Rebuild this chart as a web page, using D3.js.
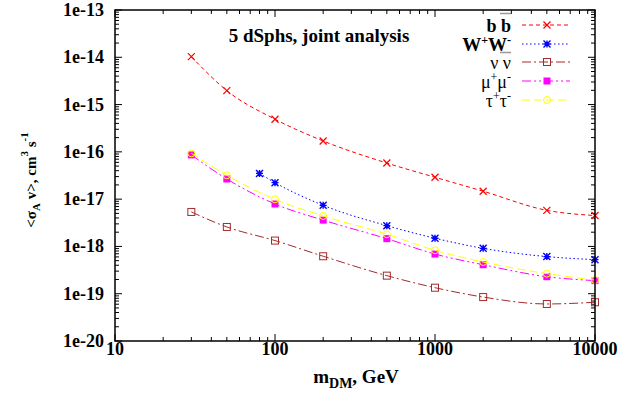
<!DOCTYPE html>
<html>
<head>
<meta charset="utf-8">
<script src="https://cdn.jsdelivr.net/npm/d3@7"></script>
<style>
  html, body { margin: 0; padding: 0; background: #fff; }
  svg text { font-family: "Liberation Serif", "Times New Roman", serif; }
</style>
</head>
<body>
<svg id="chart" width="621" height="404"></svg>
<script>
// Dark-matter mass points (GeV)
const massMain = [30, 50, 100, 200, 500, 1000, 2000, 5000, 10000];
const massWW   = [80, 100, 200, 500, 1000, 2000, 5000, 10000];

// Upper limits on <sigma_A v> (cm^3 s^-1) per annihilation channel
const limitBB   = [1.03e-14, 1.97e-15, 4.9e-16, 1.7e-16, 5.8e-17, 2.9e-17, 1.47e-17, 5.8e-18, 4.5e-18];
const limitWW   = [3.5e-17, 2.23e-17, 7.4e-18, 2.75e-18, 1.49e-18, 9.1e-19, 6.1e-19, 5.25e-19];
const limitNuNu = [5.36e-18, 2.58e-18, 1.33e-18, 6.2e-19, 2.41e-19, 1.34e-19, 8.5e-20, 6.07e-20, 6.6e-20];
const limitMuMu = [8.6e-17, 2.67e-17, 7.9e-18, 3.6e-18, 1.46e-18, 6.9e-19, 4.1e-19, 2.29e-19, 1.89e-19];
const limitTauTau = [9.3e-17, 3.19e-17, 9.9e-18, 4.4e-18, 1.81e-18, 8.3e-19, 4.69e-19, 2.66e-19, 1.95e-19];

// Axis tick values
const xTicks = [10, 100, 1000, 10000];
const yTicks = [1e-20, 1e-19, 1e-18, 1e-17, 1e-16, 1e-15, 1e-14, 1e-13];
const yTickLabels = ["1e-20", "1e-19", "1e-18", "1e-17", "1e-16", "1e-15", "1e-14", "1e-13"];

const svg = d3.select("#chart");
const plot = { left: 115, right: 595, top: 10, bottom: 341 };

const x = d3.scaleLog().domain([10, 10000]).range([plot.left, plot.right]);
const y = d3.scaleLog().domain([1e-20, 1e-13]).range([plot.bottom, plot.top]);

const series = [
  { key: "bb",  xs: massMain, ys: limitBB,     color: "#ff0000", dash: "4,3",          marker: "cross" },
  { key: "ww",  xs: massWW,   ys: limitWW,     color: "#0000ff", dash: "1.5,2.5",      marker: "star" },
  { key: "nu",  xs: massMain, ys: limitNuNu,   color: "#a52a2a", dash: "9,3,2,3",      marker: "openSquare" },
  { key: "mu",  xs: massMain, ys: limitMuMu,   color: "#ff00ff", dash: "9,3,2,3,2,3",  marker: "fillSquare" },
  { key: "tau", xs: massMain, ys: limitTauTau, color: "#ffff00", dash: "8,4",          marker: "openCircle" }
];

// Minor ticks (2..9 per decade)
function minorTicks(lo, hi) {
  const out = [];
  for (let e = lo; e < hi; e++) {
    for (let m = 2; m <= 9; m++) out.push(m * Math.pow(10, e));
  }
  return out;
}
const xMinor = minorTicks(1, 4);
const yMinor = minorTicks(-20, -13);

const axes = svg.append("g").attr("stroke", "#000").attr("stroke-width", 1);
const major = 7, minor = 4;
// x ticks, bottom and top, pointing inward
xTicks.forEach(v => {
  axes.append("line").attr("x1", x(v)).attr("x2", x(v)).attr("y1", plot.bottom).attr("y2", plot.bottom - major);
  axes.append("line").attr("x1", x(v)).attr("x2", x(v)).attr("y1", plot.top).attr("y2", plot.top + major);
});
xMinor.forEach(v => {
  axes.append("line").attr("x1", x(v)).attr("x2", x(v)).attr("y1", plot.bottom).attr("y2", plot.bottom - minor);
  axes.append("line").attr("x1", x(v)).attr("x2", x(v)).attr("y1", plot.top).attr("y2", plot.top + minor);
});
// y ticks, left and right
yTicks.forEach(v => {
  axes.append("line").attr("y1", y(v)).attr("y2", y(v)).attr("x1", plot.left).attr("x2", plot.left + major);
  axes.append("line").attr("y1", y(v)).attr("y2", y(v)).attr("x1", plot.right).attr("x2", plot.right - major);
});
yMinor.forEach(v => {
  axes.append("line").attr("y1", y(v)).attr("y2", y(v)).attr("x1", plot.left).attr("x2", plot.left + minor);
  axes.append("line").attr("y1", y(v)).attr("y2", y(v)).attr("x1", plot.right).attr("x2", plot.right - minor);
});

// Tick labels
svg.append("g").selectAll("text").data(xTicks).join("text")
  .attr("x", d => x(d)).attr("y", 355)
  .attr("text-anchor", "middle")
  .attr("font-size", 18).attr("font-weight", "bold")
  .text(d => d3.format("d")(d));

svg.append("g").selectAll("text").data(yTicks).join("text")
  .attr("x", 104).attr("y", d => y(d) + 6)
  .attr("text-anchor", "end")
  .attr("font-size", 18).attr("font-weight", "bold")
  .text((d, i) => yTickLabels[i]);

// Axis titles
const xt = svg.append("text").attr("x", 356).attr("y", 383)
  .attr("text-anchor", "middle").attr("font-size", 19).attr("font-weight", "bold");
xt.append("tspan").text("m");
xt.append("tspan").attr("dy", 5).attr("font-size", 14).text("DM");
xt.append("tspan").attr("dy", -5).text(", GeV");

const yt = svg.append("text").attr("transform", "translate(36,180) rotate(-90)")
  .attr("text-anchor", "middle").attr("font-size", 15).attr("font-weight", "bold");
yt.append("tspan").text("<σ");
yt.append("tspan").attr("dy", 4).attr("font-size", 11).text("A");
yt.append("tspan").attr("dy", -4).text(" v>, cm");
yt.append("tspan").attr("dy", -8).attr("font-size", 11).text("3");
yt.append("tspan").attr("dy", 8).text(" s");
yt.append("tspan").attr("dy", -8).attr("font-size", 11).text("-1");

// Plot title
svg.append("text").attr("x", 319).attr("y", 42)
  .attr("text-anchor", "middle").attr("font-size", 19).attr("font-weight", "bold")
  .text("5 dSphs, joint analysis");

// Marker drawing
function drawMarker(g, type, cx, cy, color) {
  const s = 3.5;
  if (type === "cross") {
    g.append("path").attr("d", `M${cx - s},${cy - s}L${cx + s},${cy + s}M${cx - s},${cy + s}L${cx + s},${cy - s}`)
      .attr("stroke", color).attr("stroke-width", 1.2).attr("fill", "none");
  } else if (type === "star") {
    g.append("path").attr("d",
      `M${cx - s},${cy - s}L${cx + s},${cy + s}M${cx - s},${cy + s}L${cx + s},${cy - s}` +
      `M${cx - s},${cy}L${cx + s},${cy}M${cx},${cy - s}L${cx},${cy + s}`)
      .attr("stroke", color).attr("stroke-width", 1.4).attr("fill", "none");
  } else if (type === "openSquare") {
    g.append("rect").attr("x", cx - s).attr("y", cy - s).attr("width", 2 * s).attr("height", 2 * s)
      .attr("stroke", color).attr("stroke-width", 1).attr("fill", "none");
  } else if (type === "fillSquare") {
    g.append("rect").attr("x", cx - s).attr("y", cy - s).attr("width", 2 * s).attr("height", 2 * s)
      .attr("fill", color);
  } else if (type === "openCircle") {
    g.append("circle").attr("cx", cx).attr("cy", cy).attr("r", s)
      .attr("stroke", color).attr("stroke-width", 1).attr("fill", "none");
  }
}

const line = d3.line().curve(d3.curveMonotoneX);
const dataG = svg.append("g");
series.forEach(s => {
  const pts = s.xs.map((m, i) => [x(m), y(s.ys[i])]);
  dataG.append("path").attr("d", line(pts))
    .attr("fill", "none").attr("stroke", s.color).attr("stroke-width", 1)
    .attr("stroke-dasharray", s.dash);
  const mg = dataG.append("g");
  pts.forEach(p => drawMarker(mg, s.marker, p[0], p[1], s.color));
});

// Legend
const legRows = [25, 44, 62, 81, 100];
const legX0 = 522, legX1 = 570, legMid = 547, labelX = 511;
const leg = svg.append("g");
series.forEach((s, i) => {
  const yy = legRows[i];
  leg.append("line").attr("x1", legX0).attr("x2", legX1).attr("y1", yy).attr("y2", yy)
    .attr("stroke", s.color).attr("stroke-width", 1).attr("stroke-dasharray", s.dash);
  drawMarker(leg, s.marker, legMid, yy, s.color);
});

function legendText(i) {
  return leg.append("text").attr("x", labelX).attr("y", legRows[i] + 7)
    .attr("text-anchor", "end").attr("font-size", 18);
}
// b b-bar
legendText(0).attr("font-weight", "bold").text("b   b");
leg.append("line").attr("x1", 500).attr("x2", 511).attr("y1", 13.5).attr("y2", 13.5)
  .attr("stroke", "#999").attr("stroke-width", 1.5);
// W+ W-
const tw = legendText(1).attr("font-weight", "bold").attr("font-size", 19);
tw.append("tspan").text("W");
tw.append("tspan").attr("dy", -7).attr("font-size", 12).text("+");
tw.append("tspan").attr("dy", 7).text("W");
tw.append("tspan").attr("dy", -7).attr("font-size", 12).text("-");
leg.append("line").attr("x1", 500).attr("x2", 511).attr("y1", 52.5).attr("y2", 52.5)
  .attr("stroke", "#999").attr("stroke-width", 1.5);
// nu nu
legendText(2).text("ν   ν");
// mu+ mu-
const tm = legendText(3);
tm.append("tspan").text("μ");
tm.append("tspan").attr("dy", -7).attr("font-size", 12).text("+");
tm.append("tspan").attr("dy", 7).text("μ");
tm.append("tspan").attr("dy", -7).attr("font-size", 12).text("-");
// tau+ tau-
const tt = legendText(4);
tt.append("tspan").text("τ");
tt.append("tspan").attr("dy", -7).attr("font-size", 12).text("+");
tt.append("tspan").attr("dy", 7).text("τ");
tt.append("tspan").attr("dy", -7).attr("font-size", 12).text("-");

// Frame
svg.append("rect").attr("x", plot.left).attr("y", plot.top)
  .attr("width", plot.right - plot.left).attr("height", plot.bottom - plot.top)
  .attr("fill", "none").attr("stroke", "#000").attr("stroke-width", 1.5);
</script>
</body>
</html>
